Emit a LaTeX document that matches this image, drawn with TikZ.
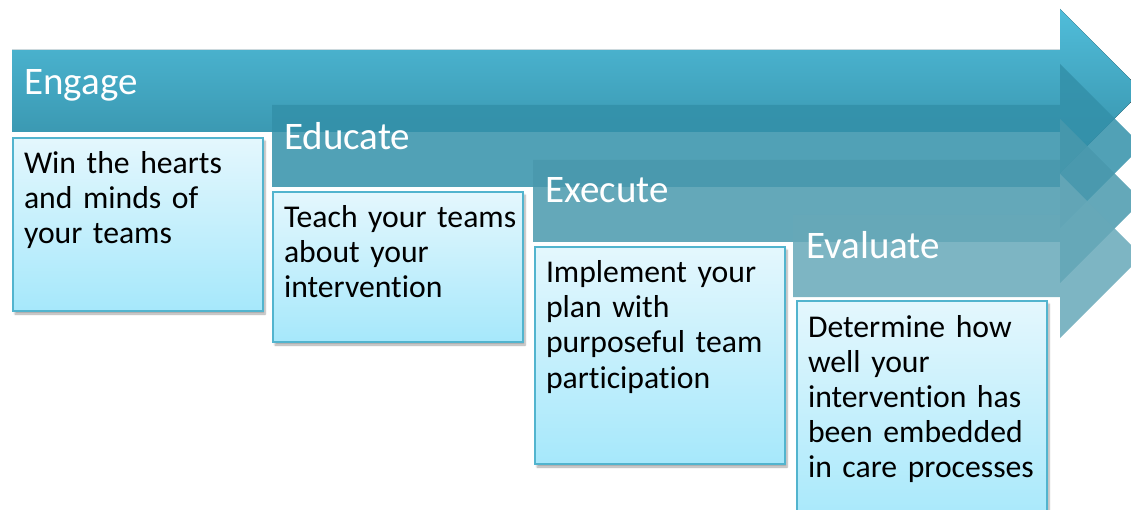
\documentclass[tikz,border=0pt]{standalone}
\usepackage{fontspec}
\setmainfont{Carlito}[Ligatures=NoCommon]
\usetikzlibrary{shadows.blur}

\definecolor{engagetop}{HTML}{50BDDA}
\definecolor{engagebot}{HTML}{348DA5}
\definecolor{educatefill}{HTML}{3390A9}
\definecolor{executefill}{HTML}{4999AD}
\definecolor{evaluatefill}{HTML}{66A8B8}
\definecolor{boxtop}{HTML}{E4F7FD}
\definecolor{boxbot}{HTML}{A6E8FB}
\definecolor{boxline}{HTML}{52B4CE}

\tikzset{
    stagebar/.style={fill opacity=0.85},
    stagetitle/.style={anchor=base west, inner sep=0pt, text=white, font=\fontsize{39}{41}\selectfont},
    stagebox/.style={anchor=north west, outer sep=0pt, draw=boxline, line width=1.5pt,
        top color=boxtop, bottom color=boxbot, text width=228pt, inner xsep=11pt, inner ysep=0pt,
        text height=36pt, execute at begin node=\raggedright, font=\fontsize{31.7}{35}\selectfont,
        blur shadow={shadow xshift=2pt, shadow yshift=-3pt, shadow opacity=35, shadow blur steps=6}},
}

\begin{document}
\begin{tikzpicture}[x=1pt, y=-1pt]
        \useasboundingbox (0,0) rectangle (1131,510);
        \clip (0,0) rectangle (1131,510);
        
        \fill[top color=engagetop, bottom color=engagebot] (12,50) -- (1060,50) -- (1060,9) -- (1142,91) -- (1060,173) -- (1060,132) -- (12,132) -- cycle;
        \fill[stagebar, educatefill] (272,105) -- (1060,105) -- (1060,64) -- (1142,146) -- (1060,228) -- (1060,187) -- (272,187) -- cycle;
        \fill[stagebar, executefill] (533,160) -- (1060,160) -- (1060,119) -- (1142,201) -- (1060,283) -- (1060,242) -- (533,242) -- cycle;
        \fill[stagebar, evaluatefill] (793,215) -- (1060,215) -- (1060,174) -- (1142,256) -- (1060,338) -- (1060,297) -- (793,297) -- cycle;
        
        \node[stagetitle] (engage) at (24,95) {Engage};
        \node[stagetitle] (educate) at (284,150) {Educate};
        \node[stagetitle] (execute) at (545,203) {Execute};
        \node[stagetitle] (evaluate) at (806,259) {Evaluate};
        
        \node[stagebox, text depth=137pt] (engagebox) at (13,138) {Win the hearts\\ and minds of\\ your teams};
        \node[stagebox, text depth=114pt] (educatebox) at (273,192) {Teach~your~teams\\ about your\\ intervention};
        \node[stagebox, text depth=181pt] (executebox) at (535,247) {Implement your\\ plan with\\ purposeful team\\ participation};
        \node[stagebox, text depth=190pt] (evaluatebox) at (797,301) {Determine how\\ well your\\ intervention has\\ been embedded\\ in care processes};
        
    \end{tikzpicture}
\end{document}
